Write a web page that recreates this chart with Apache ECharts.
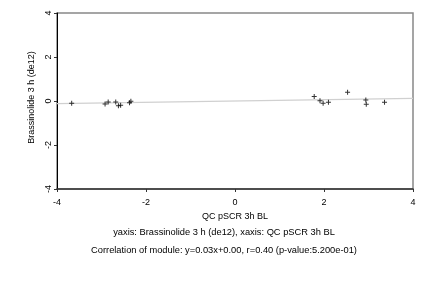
<!DOCTYPE html>
<html><head><meta charset="utf-8">
<script src="https://cdn.jsdelivr.net/npm/echarts@6/dist/echarts.min.js"></script>
<style>html,body{margin:0;padding:0;background:#fff}#c{width:432px;height:288px}</style>
</head><body><div id="c"></div>
<script>
const xValues = [-3.67, -2.92, -2.85, -2.68, -2.62, -2.57, -2.37, -2.34, 1.78, 1.91, 1.98, 2.10, 2.53, 2.94, 2.95, 3.36];
const yValues = [-0.10, -0.14, -0.04, -0.04, -0.22, -0.19, -0.08, -0.01, 0.20, 0.01, -0.10, -0.06, 0.40, 0.05, -0.15, -0.06];
const slope = 0.03, intercept = 0.00;
const xTicks = [-4, -2, 0, 2, 4];
const yTicks = [-4, -2, 0, 2, 4];
const xName = 'QC pSCR 3h BL';
const yName = 'Brassinolide 3 h (de12)';
const line1 = 'yaxis: Brassinolide 3 h (de12), xaxis: QC pSCR 3h BL';
const line2 = 'Correlation of module: y=0.03x+0.00, r=0.40 (p-value:5.200e-01)';

const points = xValues.map((x, i) => [x, yValues[i]]);
const xMin = xTicks[0], xMax = xTicks[xTicks.length - 1];
const fit = [[xMin, slope * xMin + intercept], [xMax, slope * xMax + intercept]];
const font = 'Liberation Sans, Arial, sans-serif';
const plus = 'path://M-0.2,-1 L0.2,-1 L0.2,-0.2 L1,-0.2 L1,0.2 L0.2,0.2 L0.2,1 L-0.2,1 L-0.2,0.2 L-1,0.2 L-1,-0.2 L-0.2,-0.2 Z';

const chart = echarts.init(document.getElementById('c'), null, {renderer: 'canvas'});
chart.setOption({
  animation: false,
  grid: {left: 57, right: 19, top: 13, bottom: 99, show: true, borderColor: '#888', borderWidth: 1.5},
  xAxis: {
    type: 'value', min: xMin, max: xMax, interval: 2,
    name: xName, nameLocation: 'middle', nameGap: 20,
    nameTextStyle: {fontFamily: font, fontSize: 9, color: '#000'},
    axisLine: {show: true, onZero: false, lineStyle: {color: '#333', width: 1.5}},
    axisTick: {show: true, length: 3, lineStyle: {color: '#333'}},
    axisLabel: {fontFamily: font, fontSize: 9, color: '#000', margin: 9},
    splitLine: {show: false}
  },
  yAxis: {
    type: 'value', min: yTicks[0], max: yTicks[yTicks.length - 1], interval: 2,
    name: yName, nameLocation: 'middle', nameGap: 18, nameRotate: 90,
    nameTextStyle: {fontFamily: font, fontSize: 9, color: '#000', padding: [0, 0, 0, 7]},
    axisLine: {show: true, onZero: false, lineStyle: {color: '#000', width: 1}},
    axisTick: {show: true, length: 3, lineStyle: {color: '#333'}},
    axisLabel: {fontFamily: font, fontSize: 9, color: '#000', rotate: 90, margin: 4},
    splitLine: {show: false}
  },
  series: [
    {type: 'line', data: fit, symbol: 'none', lineStyle: {color: '#d0d0d0', width: 1.2}, silent: true, z: 1},
    {type: 'scatter', data: points, symbol: plus, symbolSize: 5, itemStyle: {color: '#000'}, z: 3}
  ],
  graphic: [
    {type: 'text', x: 224, y: 232, style: {text: line1, fontFamily: font, fontSize: 9.3, fill: '#000', textAlign: 'center', textVerticalAlign: 'middle'}},
    {type: 'text', x: 224, y: 250, style: {text: line2, fontFamily: font, fontSize: 9.3, fill: '#000', textAlign: 'center', textVerticalAlign: 'middle'}}
  ]
});
</script></body></html>
